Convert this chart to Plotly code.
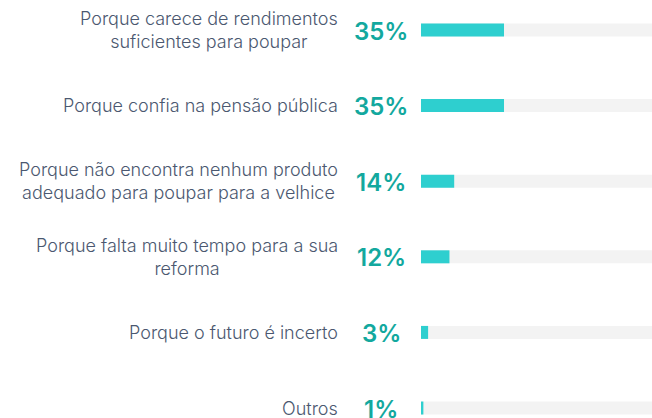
import plotly.graph_objects as go

categories = [
    "Porque carece de rendimentos<br>suficientes para poupar",
    "Porque confia na pensão pública",
    "Porque não encontra nenhum produto<br>adequado para poupar para a velhice",
    "Porque falta muito tempo para a sua<br>reforma",
    "Porque o futuro é incerto",
    "Outros",
]
values = [35, 35, 14, 12, 3, 1]
value_labels = ["35%", "35%", "14%", "12%", "3%", "1%"]
track = [100] * len(categories)

ids = [str(i) for i in range(len(categories))]

fig = go.Figure()
fig.add_trace(go.Bar(y=ids, x=track, orientation="h", marker=dict(color="#f3f3f3", line=dict(width=0)),
                     width=0.172, hoverinfo="skip", showlegend=False))
fig.add_trace(go.Bar(y=ids, x=values, orientation="h", marker=dict(color="#2ecfcf", line=dict(width=0)),
                     width=0.172, showlegend=False))

for cid, cat, lab in zip(ids, categories, value_labels):
    fig.add_annotation(x=0, xref="paper", y=cid, yref="y", text=cat, showarrow=False,
                       xanchor="right", yanchor="middle", align="center", xshift=-81,
                       font=dict(family="Inter", size=18, color="#4b5870", weight=300))
    fig.add_annotation(x=0, xref="paper", y=cid, yref="y", text=lab, showarrow=False,
                       xanchor="center", yanchor="middle", xshift=-40, yshift=-1,
                       font=dict(family="Inter", size=24, color="#13a89e", weight=600))

fig.update_layout(
    width=652, height=418,
    margin=dict(l=421, r=0, t=0, b=0, autoexpand=False),
    paper_bgcolor="white", plot_bgcolor="white",
    barmode="overlay",
    xaxis=dict(range=[0, 97.4], visible=False, fixedrange=True),
    yaxis=dict(type="category", categoryorder="array", categoryarray=ids,
               range=[5.132, -0.397], visible=False, fixedrange=True),
)
fig.write_html("out.html", config={"displayModeBar": False},
               post_script="document.body.style.margin='0px';document.body.style.overflow='hidden';")
